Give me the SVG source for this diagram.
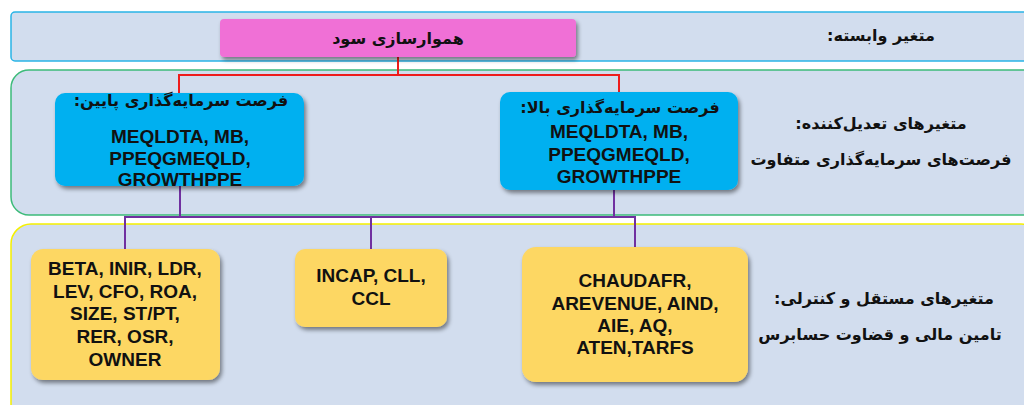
<svg xmlns="http://www.w3.org/2000/svg" width="1024" height="405" viewBox="0 0 1024 405">
<defs>
<filter id="sh" x="-10%" y="-10%" width="125%" height="130%">
<feDropShadow dx="2" dy="3" stdDeviation="2" flood-color="#000" flood-opacity="0.45"/>
</filter>
<style>
.band{fill:#d2ddee;stroke-width:1.5}
.lat{font-family:"Liberation Sans",Arial,sans-serif;font-weight:bold;font-size:19px;fill:#111;text-anchor:middle}
.fa{font-family:"DejaVu Sans",sans-serif;font-weight:bold;font-size:16px;fill:#111;text-anchor:middle;direction:rtl}
.blue{fill:#00b0f0}
.yel{fill:#fdd764}
.red{fill:none;stroke:#ee1c1c;stroke-width:2}
.pur{fill:none;stroke:#7030a0;stroke-width:2}
</style>
</defs>
<rect width="1024" height="405" fill="#fff"/>
<g id="band-dependent">
<rect class="band" x="11" y="12" width="1030" height="49" rx="4" stroke="#2ab4e6"/>
<text class="fa" x="881" y="41">متغیر وابسته:</text>
</g>
<g id="band-moderator">
<rect class="band" x="11" y="70" width="1030" height="145" rx="18" stroke="#3dbb7a"/>
<text class="fa" x="881" y="129">متغیرهای تعدیل&#8204;کننده:</text>
<text class="fa" x="881" y="165">فرصت&#8204;های سرمایه&#8204;گذاری متفاوت</text>
</g>
<g id="band-independent">
<rect class="band" x="11" y="224" width="1030" height="200" rx="20" stroke="#f5f000"/>
<text class="fa" x="884" y="304">متغیرهای مستقل و کنترلی:</text>
<text class="fa" x="880" y="340">تامین مالی و قضاوت حسابرس</text>
</g>
<g id="connectors">
<polyline class="red" points="398,57 398,75 179,75 179,93"/>
<polyline class="red" points="398,75 619,75 619,92"/>
<polyline class="pur" points="180,186 180,217"/>
<polyline class="pur" points="614,190 614,217"/>
<polyline class="pur" points="125,249 125,217 635,217 635,247"/>
<polyline class="pur" points="371,217 371,249"/>
</g>
<g id="node-smoothing">
<rect x="220" y="19" width="356" height="38" rx="4" fill="#f070d6" filter="url(#sh)"/>
<text class="fa" x="398" y="44">هموارسازی سود</text>
</g>
<g id="node-low">
<rect class="blue" x="55" y="93" width="249" height="93" rx="10" filter="url(#sh)"/>
<text class="fa" x="181" y="106">فرصت سرمایه&#8204;گذاری پایین:</text>
<text class="lat" x="180" y="143">MEQLDTA, MB,</text>
<text class="lat" x="180" y="165">PPEQGMEQLD,</text>
<text class="lat" x="180" y="186">GROWTHPPE</text>
</g>
<g id="node-high">
<rect class="blue" x="500" y="92" width="238" height="98" rx="10" filter="url(#sh)"/>
<text class="fa" x="620" y="113">فرصت سرمایه&#8204;گذاری بالا:</text>
<text class="lat" x="619" y="138">MEQLDTA, MB,</text>
<text class="lat" x="619" y="161">PPEQGMEQLD,</text>
<text class="lat" x="619" y="183">GROWTHPPE</text>
</g>
<g id="node-controls1">
<rect class="yel" x="31" y="249" width="189" height="131" rx="12" filter="url(#sh)"/>
<text class="lat" x="125" y="275">BETA, INIR, LDR,</text>
<text class="lat" x="125" y="298">LEV, CFO, ROA,</text>
<text class="lat" x="125" y="320">SIZE, ST/PT,</text>
<text class="lat" x="125" y="343">RER, OSR,</text>
<text class="lat" x="125" y="366">OWNER</text>
</g>
<g id="node-controls2">
<rect class="yel" x="295" y="249" width="152" height="78" rx="10" filter="url(#sh)"/>
<text class="lat" x="371" y="282">INCAP, CLL,</text>
<text class="lat" x="371" y="305">CCL</text>
</g>
<g id="node-audit">
<rect class="yel" x="522" y="247" width="226" height="135" rx="14" filter="url(#sh)"/>
<text class="lat" x="635" y="287">CHAUDAFR,</text>
<text class="lat" x="635" y="310">AREVENUE, AIND,</text>
<text class="lat" x="635" y="332">AIE, AQ,</text>
<text class="lat" x="635" y="354">ATEN,TARFS</text>
</g>
</svg>
